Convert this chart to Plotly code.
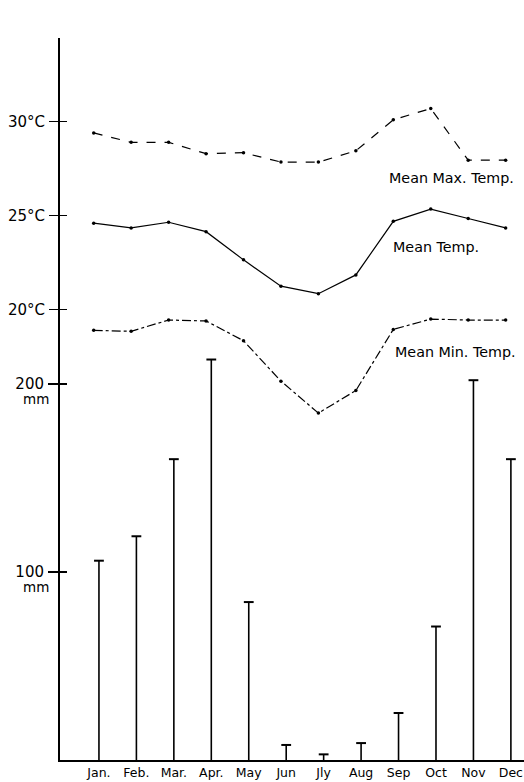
import plotly.graph_objects as go

months = ["Jan.", "Feb.", "Mar.", "Apr.", "May", "Jun", "Jly", "Aug", "Sep", "Oct", "Nov", "Dec"]
rain_mm = [106, 119, 160, 213, 84, 8, 3, 9, 25, 71, 202, 160]
mean_max = [29.4, 28.9, 28.9, 28.3, 28.35, 27.85, 27.85, 28.45, 30.1, 30.7, 27.95, 27.95]
mean_temp = [24.6, 24.35, 24.65, 24.15, 22.65, 21.25, 20.85, 21.85, 24.7, 25.35, 24.85, 24.35]
mean_min = [18.9, 18.85, 19.45, 19.4, 18.35, 16.2, 14.5, 15.7, 18.95, 19.5, 19.45, 19.45]

temp_ticks = [20, 25, 30]
temp_labels = ["20°C", "25°C", "30°C"]
rain_ticks = [100, 200]
rain_labels = ["100", "200"]
rain_unit = "mm"

idx = list(range(len(months)))
FONT = "DejaVu Sans"

fig = go.Figure()

# rainfall stems (drawn down to zero) with a cap at the top
fig.add_trace(go.Scatter(x=idx, y=rain_mm, mode="markers", cliponaxis=False,
                         marker=dict(symbol="line-ew", size=7, line=dict(width=2, color="black")),
                         error_y=dict(type="data", symmetric=False, array=[0] * len(rain_mm),
                                      arrayminus=rain_mm, width=0, thickness=1.6, color="black"),
                         xaxis="x", yaxis="y", showlegend=False))

def temp_trace(vals, dash):
    return go.Scatter(x=idx, y=vals, mode="lines+markers", cliponaxis=False,
                      line=dict(color="black", width=1.2, dash=dash),
                      marker=dict(color="black", size=3.5),
                      xaxis="x2", yaxis="y2", showlegend=False)

fig.add_trace(temp_trace(mean_max, "dash"))
fig.add_trace(temp_trace(mean_temp, "solid"))
fig.add_trace(temp_trace(mean_min, "dashdot"))

ann_font = dict(family=FONT, size=14.3, color="black")
for txt, xx, yy in [("Mean Max. Temp.", 7.82, 27.0), ("Mean Temp.", 7.95, 23.35), ("Mean Min. Temp.", 7.98, 17.75)]:
    fig.add_annotation(text=txt, x=xx, y=yy, xref="x2", yref="y2", xanchor="left", yanchor="middle",
                       showarrow=False, font=ann_font)

# unit labels under the rainfall tick numbers
for v in rain_ticks:
    fig.add_annotation(text=rain_unit, x=0, y=v, xref="paper", yref="y", xanchor="right", yanchor="middle",
                       xshift=-9, yshift=-15, showarrow=False,
                       font=dict(family=FONT, size=13.5, color="black"))

xr = [-1.04, 11.35]
shift = 0.14
rain_range = [0, 384]
temp_range = [-3.95, 34.45]

tick_common = dict(ticklen=10, tickwidth=1.3, tickcolor="black", showgrid=False, zeroline=False, automargin=False)

fig.update_layout(
    width=524, height=782,
    margin=dict(l=60, r=0, t=38, b=22),
    paper_bgcolor="white", plot_bgcolor="white",
    font=dict(family=FONT, color="black"),
    xaxis=dict(range=xr, tickmode="array", tickvals=idx, ticktext=months, ticks="",
               showgrid=False, zeroline=False, showline=True, linecolor="black", linewidth=1.5,
               tickfont=dict(size=12.5, family=FONT), automargin=False, ticklabelstandoff=0,
               ticklabeloverflow="allow"),
    xaxis2=dict(range=[xr[0] + shift, xr[1] + shift], overlaying="x", visible=False),
    yaxis=dict(range=rain_range, tickmode="array", tickvals=rain_ticks, ticktext=rain_labels,
               ticks="outside", showline=True, linecolor="black", linewidth=2,
               tickfont=dict(size=15, family=FONT), ticklabelstandoff=1, **tick_common),
    yaxis2=dict(range=temp_range, overlaying="y", side="left", tickmode="array",
                tickvals=temp_ticks, ticktext=temp_labels, ticks="outside", showline=False,
                tickfont=dict(size=15, family=FONT), ticklabelstandoff=1, **tick_common),
    yaxis3=dict(range=rain_range, overlaying="y", side="left", tickmode="array", tickvals=rain_ticks,
                ticks="inside", showticklabels=False, showline=False,
                **{**tick_common, "ticklen": 7}),
    yaxis4=dict(range=temp_range, overlaying="y", side="left", tickmode="array", tickvals=temp_ticks,
                ticks="inside", showticklabels=False, showline=False,
                **{**tick_common, "ticklen": 7}),
)

fig.add_trace(go.Scatter(x=[None], y=[None], xaxis="x", yaxis="y3", showlegend=False, hoverinfo="skip"))
fig.add_trace(go.Scatter(x=[None], y=[None], xaxis="x", yaxis="y4", showlegend=False, hoverinfo="skip"))

# remove the default 8px page margin so the figure fills the window exactly
fig.write_html("out.html", config={"displayModeBar": False, "staticPlot": True},
               post_script="document.body.style.margin='0px';document.body.style.overflow='hidden';")
